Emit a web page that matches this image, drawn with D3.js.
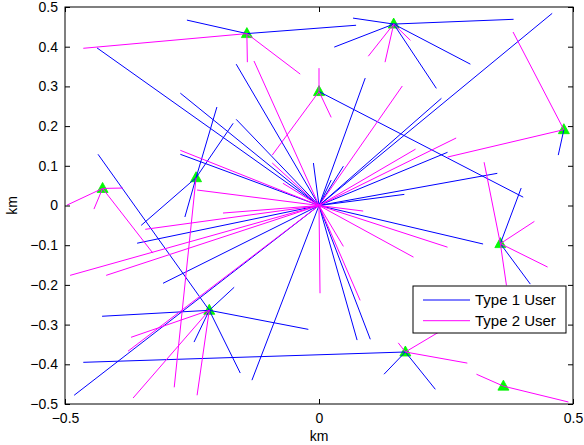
<!DOCTYPE html>
<html lang="en">
<head>
  <meta charset="UTF-8">
  <title>users and relays</title>
  <style>
    body { margin: 0; background: #fff; }
    svg { display: block; font-family: "Liberation Sans", Arial, Helvetica, sans-serif; }
    .tick line { stroke: #000; }
    .tick text { font-size: 14px; fill: #000; }
  </style>
</head>
<body>
<div id="wrapper"></div>
<script src="https://cdnjs.cloudflare.com/ajax/libs/d3/7.8.5/d3.min.js"></script>
<script>

// nodes: 0 = base station at origin, 1..10 = relays (green triangles)
const nodes = [
  [0, 0],
  [-0.142, 0.433], [0.147, 0.457], [0.000, 0.287], [0.482, 0.191], [-0.426, 0.043],
  [-0.242, 0.070], [0.357, -0.096], [-0.216, -0.264], [0.170, -0.369], [0.363, -0.455]
]

// each link: [node index, user x, user y]
const type1Links = [
  [0, -0.437, 0.397], [0, -0.273, 0.283], [0, -0.163, 0.356], [0, -0.163, 0.217],
  [0, -0.273, 0.129], [0, -0.011, 0.107], [0, 0.048, 0.099], [0, 0.024, 0.064],
  [0, 0.091, 0.321], [0, 0.241, 0.270], [0, 0.459, 0.484], [0, 0.253, 0.134],
  [0, 0.351, 0.081], [0, 0.168, 0.028], [0, 0.323, -0.097], [0, 0.075, -0.339],
  [0, 0.101, -0.337], [0, -0.132, -0.440], [0, -0.358, -0.095], [0, -0.307, -0.196],
  [0, -0.482, -0.478],
  [1, -0.260, 0.467], [1, 0.073, 0.454],
  [2, 0.067, 0.472], [2, 0.383, 0.469], [2, 0.030, 0.399], [2, 0.298, 0.356], [2, 0.231, 0.295],
  [3, 0.402, 0.021],
  [4, 0.471, 0.127],
  [6, -0.201, 0.248], [6, -0.264, -0.029], [6, -0.169, 0.207], [6, -0.350, -0.050],
  [7, 0.398, 0.044], [7, 0.416, -0.198],
  [8, -0.435, 0.129], [8, -0.155, -0.422], [8, -0.427, -0.279], [8, -0.021, -0.312],
  [8, -0.246, -0.344], [8, -0.167, -0.206],
  [9, -0.464, -0.395], [9, 0.128, -0.425], [9, 0.229, -0.463]
]

const type2Links = [
  [0, -0.128, 0.364], [0, 0.164, 0.301], [0, -0.273, 0.139], [0, -0.092, 0.107],
  [0, -0.071, 0.056], [0, -0.240, 0.039], [0, 0.270, 0.170], [0, 0.190, 0.142],
  [0, 0.087, -0.014], [0, 0.253, -0.105], [0, 0.186, -0.130], [0, 0.048, -0.103],
  [0, 0.081, -0.239], [0, 0.002, -0.221], [0, -0.342, -0.060], [0, -0.189, -0.019],
  [0, -0.490, -0.176], [0, -0.419, -0.176], [0, -0.376, -0.367],
  [1, -0.464, 0.396], [1, -0.141, 0.361], [1, -0.037, 0.331],
  [2, 0.180, 0.416], [2, 0.097, 0.376], [2, 0.130, 0.361],
  [3, 0.000, 0.346], [3, 0.024, 0.222], [3, -0.092, 0.127],
  [4, 0.382, 0.437], [4, 0.253, 0.122],
  [5, -0.496, 0.001], [5, -0.386, 0.044], [5, -0.443, -0.009], [5, -0.327, -0.120],
  [6, -0.285, -0.458],
  [7, 0.325, 0.109], [7, 0.369, -0.201], [7, 0.424, -0.040], [7, 0.450, -0.155],
  [8, -0.370, -0.332], [8, -0.366, -0.485], [8, -0.240, -0.478],
  [9, 0.156, -0.346], [9, 0.292, -0.397], [9, 0.258, -0.302],
  [10, 0.310, -0.425], [10, 0.491, -0.495]
]

const xTicks = [-0.5, 0, 0.5]
const yTicks = [-0.5, -0.4, -0.3, -0.2, -0.1, 0, 0.1, 0.2, 0.3, 0.4, 0.5]
const seriesNames = ["Type 1 User", "Type 2 User"]
const seriesColors = ["#0000ff", "#ff00ff"]

let dimensions = {
  width: 584,
  height: 445,
  margin: { top: 7, right: 11, bottom: 41, left: 65 }
}
dimensions.boundedWidth = dimensions.width - dimensions.margin.left - dimensions.margin.right
dimensions.boundedHeight = dimensions.height - dimensions.margin.top - dimensions.margin.bottom

const wrapper = d3.select("#wrapper")
  .append("svg")
  .attr("width", dimensions.width)
  .attr("height", dimensions.height)

const bounds = wrapper.append("g")
  .attr("transform", "translate(" + dimensions.margin.left + "," + dimensions.margin.top + ")")

const xScale = d3.scaleLinear()
  .domain([-0.5, 0.5])
  .range([0, dimensions.boundedWidth])

const yScale = d3.scaleLinear()
  .domain([-0.5, 0.5])
  .range([dimensions.boundedHeight, 0])

const fmt = d => d === 0 ? "0" : d3.format(".1f")(d).replace("-", "\u2212")

// relays first, lines over them
const tri = "M0,-6L5.5,4L-5.5,4Z"
bounds.append("g").selectAll("path")
  .data(nodes.slice(1))
  .join("path")
  .attr("d", tri)
  .attr("transform", d => "translate(" + xScale(d[0]) + "," + yScale(d[1]) + ")")
  .attr("fill", "#00ff00")
  .attr("stroke", "#00ee00")
  .attr("stroke-width", 0.8)

const drawLinks = (links, color) => {
  bounds.append("g").selectAll("line")
    .data(links)
    .join("line")
    .attr("x1", d => xScale(nodes[d[0]][0]))
    .attr("y1", d => yScale(nodes[d[0]][1]))
    .attr("x2", d => xScale(d[1]))
    .attr("y2", d => yScale(d[2]))
    .attr("stroke", color)
    .attr("stroke-width", 1)
}
drawLinks(type1Links, seriesColors[0])
drawLinks(type2Links, seriesColors[1])

// axes with inward ticks, on all four sides
const xAxis = bounds.append("g")
  .attr("transform", "translate(0," + dimensions.boundedHeight + ")")
  .call(d3.axisBottom(xScale).tickValues(xTicks).tickFormat(fmt).tickSizeInner(-5).tickSizeOuter(0).tickPadding(9))
const yAxis = bounds.append("g")
  .call(d3.axisLeft(yScale).tickValues(yTicks).tickFormat(fmt).tickSizeInner(-5).tickSizeOuter(0).tickPadding(7))
bounds.append("g")
  .call(d3.axisTop(xScale).tickValues(xTicks).tickFormat("").tickSizeInner(-5).tickSizeOuter(0))
bounds.append("g")
  .attr("transform", "translate(" + dimensions.boundedWidth + ",0)")
  .call(d3.axisRight(yScale).tickValues(yTicks).tickFormat("").tickSizeInner(-5).tickSizeOuter(0))
bounds.selectAll(".domain").remove()

bounds.append("rect")
  .attr("width", dimensions.boundedWidth)
  .attr("height", dimensions.boundedHeight)
  .attr("fill", "none")
  .attr("stroke", "#000")
  .attr("stroke-width", 1)

wrapper.append("text")
  .attr("x", dimensions.margin.left + dimensions.boundedWidth / 2)
  .attr("y", 441)
  .attr("text-anchor", "middle")
  .style("font-size", "14px")
  .text("km")

wrapper.append("text")
  .attr("transform", "translate(17," + (dimensions.margin.top + dimensions.boundedHeight / 2) + ") rotate(-90)")
  .attr("text-anchor", "middle")
  .style("font-size", "14px")
  .text("km")

// legend
const legend = wrapper.append("g").attr("transform", "translate(413,286)")
legend.append("rect")
  .attr("width", 153)
  .attr("height", 47)
  .attr("fill", "#fff")
  .attr("stroke", "#000")
  .attr("stroke-width", 1)
seriesNames.forEach((name, i) => {
  const y = 14 + i * 20.7
  legend.append("line")
    .attr("x1", 10).attr("x2", 57)
    .attr("y1", y).attr("y2", y)
    .attr("stroke", seriesColors[i])
  legend.append("text")
    .attr("x", 62)
    .attr("y", y + 5)
    .style("font-size", "15px")
    .text(name)
})

</script>
</body>
</html>
